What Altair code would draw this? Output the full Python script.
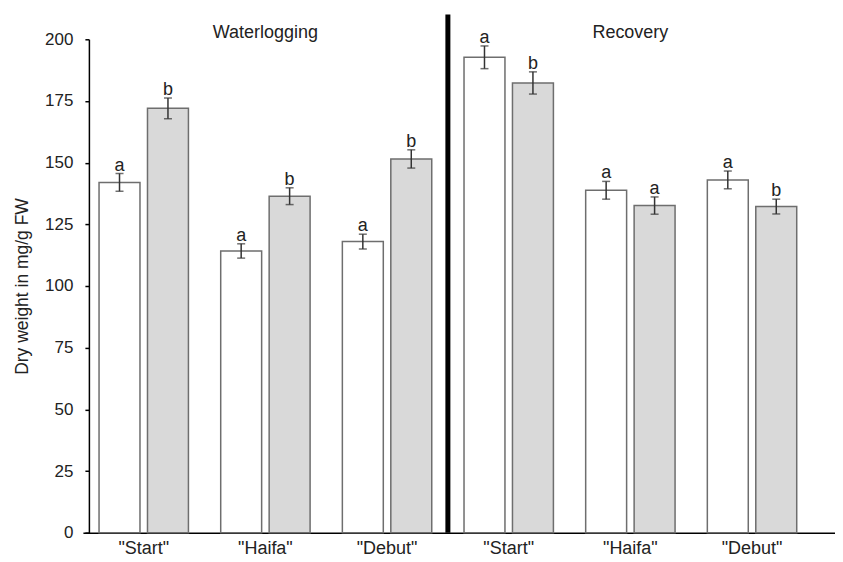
import altair as alt
import pandas as pd

# ---- data ----
phases = ["Waterlogging", "Recovery"]
cultivars = ['"Start"', '"Haifa"', '"Debut"']
treatments = ["control", "waterlogged"]

control_mean = [142, 114.2, 118, 192.7, 138.8, 143]
control_err = [3.6, 2.9, 3.0, 4.6, 3.6, 3.6]
control_letter = ["a", "a", "a", "a", "a", "a"]

water_mean = [172, 136.4, 151.5, 182.3, 132.6, 132.2]
water_err = [4.2, 3.4, 3.7, 4.5, 3.5, 3.0]
water_letter = ["b", "b", "b", "b", "a", "b"]

y_ticks = [i * 12.5 for i in range(17)]
y_title = "Dry weight in mg/g FW"

# ---- build tables ----
keys = [f"{p}|{c}" for p in phases for c in cultivars]
rows = []
for i, k in enumerate(keys):
    rows.append(dict(key=k, treat="control", mean=control_mean[i], err=control_err[i], letter=control_letter[i]))
    rows.append(dict(key=k, treat="waterlogged", mean=water_mean[i], err=water_err[i], letter=water_letter[i]))
df = pd.DataFrame(rows)
df["lo"] = df["mean"] - df["err"]
df["hi"] = df["mean"] + df["err"]

phase_df = pd.DataFrame({"key": [f"{p}|{cultivars[1]}" for p in phases], "phase": phases, "y": [202.5, 202.5]})
divider_df = pd.DataFrame({"key": [keys[2]], "y0": [0], "y1": [210]})

FONT = "Liberation Sans"
TXT = "#222222"

x_scale = alt.Scale(domain=keys, paddingInner=0, paddingOuter=0.091, align=0)
xo_scale = alt.Scale(domain=treatments, paddingInner=0.155, paddingOuter=0.333)
y_scale = alt.Scale(domain=[0, 200], nice=False, zero=True)

x_axis = alt.Axis(
    labelExpr="split(datum.label, '|')[1]",
    ticks=False, labelAngle=0, labelFontSize=18, labelPadding=7,
    labelColor=TXT, labelFont=FONT, domainColor="black", domainWidth=1.5,
    title=None, grid=False,
)
y_axis = alt.Axis(
    values=y_ticks,
    labelExpr="datum.value % 25 == 0 ? datum.label : ''",
    tickSize=4, tickColor="black", tickWidth=1.5,
    labelPadding=12, labelFontSize=17, labelColor=TXT, labelFont=FONT,
    domainColor="black", domainWidth=1.5, offset=-6,
    title=y_title, titleFontSize=17.5, titleFont=FONT, titleColor=TXT,
    titleFontWeight="normal", titlePadding=13, grid=False,
)

base = alt.Chart(df)

bars = base.mark_bar(stroke="#6e6e6e", strokeWidth=1.5).encode(
    x=alt.X("key:N", scale=x_scale, axis=x_axis, sort=keys),
    xOffset=alt.XOffset("treat:N", scale=xo_scale),
    y=alt.Y("mean:Q", scale=y_scale, axis=y_axis),
    color=alt.Color("treat:N", scale=alt.Scale(domain=treatments, range=["#ffffff", "#d9d9d9"]), legend=None),
)

err_rule = base.mark_rule(color="#333333", strokeWidth=1.5).encode(
    x=alt.X("key:N", sort=keys),
    xOffset=alt.XOffset("treat:N"),
    y=alt.Y("lo:Q"),
    y2="hi:Q",
)

cap_lo = base.mark_tick(color="#333333", thickness=1.5, size=8).encode(
    x=alt.X("key:N", sort=keys),
    xOffset=alt.XOffset("treat:N"),
    y=alt.Y("lo:Q"),
)
cap_hi = base.mark_tick(color="#333333", thickness=1.5, size=8).encode(
    x=alt.X("key:N", sort=keys),
    xOffset=alt.XOffset("treat:N"),
    y=alt.Y("hi:Q"),
)

letters = base.mark_text(baseline="alphabetic", dy=-3, fontSize=18, font=FONT, color=TXT).encode(
    x=alt.X("key:N", sort=keys),
    xOffset=alt.XOffset("treat:N"),
    y=alt.Y("hi:Q"),
    text="letter:N",
)

phase_text = alt.Chart(phase_df).mark_text(baseline="middle", fontSize=18, font=FONT, color=TXT).encode(
    x=alt.X("key:N", sort=keys),
    y=alt.Y("y:Q"),
    text="phase:N",
)

divider = alt.Chart(divider_df).mark_rule(color="black", strokeWidth=5).encode(
    x=alt.X("key:N", sort=keys, bandPosition=1),
    y=alt.Y("y0:Q"),
    y2="y1:Q",
)

chart = alt.layer(bars, err_rule, cap_lo, cap_hi, letters, phase_text, divider).properties(
    width=753, height=494,
    padding={"left": 5, "top": 3, "right": 0, "bottom": 0},
    background="white",
).configure_view(stroke=None)

chart.save("out.html", embed_options={"renderer": "svg", "actions": False})
